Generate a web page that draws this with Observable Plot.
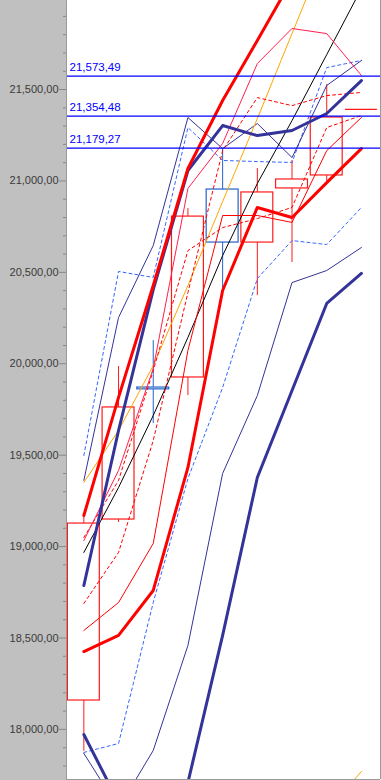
<!DOCTYPE html>
<html><head><meta charset="utf-8">
<script src="https://cdn.jsdelivr.net/npm/d3@7"></script>
<script src="https://cdn.jsdelivr.net/npm/@observablehq/plot@0.6"></script>
<style>html,body{margin:0;padding:0;background:#fff;} svg{display:block;}</style>
</head><body><div id="chart"></div>
<script>
// candles (index 0..8)
const candleOpen  = [19126, 19761, 19870, 20805, 20663, 20937, 21008, 21347, 21391];
const candleClose = [18158, 19148, 19860, 19925, 20953, 20663, 20959, 21030, 21391];
const candleHigh  = [19180, 19985, 20127, 20849, 21177, 21068, 21112, 21527, 21391];
const candleLow   = [17880, 19132, 19673, 19826, 20406, 20373, 20554, 20980, 21391];
const candleDir   = ["down","down","up","down","up","down","down","down","down"];

// indicator series
const thickRedUpper  = [19170, 19816, 20428, 21068, 21440, 21768, 22102, null, null];
const thickRedLower  = [18426, 18514, 18760, 19433, 20401, 20855, 20800, 20991, 21177];
const thickNavyUpper = [18787, 19635, 20406, 21057, 21303, 21248, 21276, 21369, 21549];
const thickNavyLower = [17972, 17601, 17500, 17710, 18514, 19378, 19854, 20330, 20494];
const thinNavyUpper  = [19362, 20253, 20647, 21347, 21177, 21314, 21128, 21522, 21659];
const thinNavyLower  = [17869, 17568, 17885, 18459, 19400, 19826, 20444, 20510, 20636];
const dashBlueUpper  = [19498, 20505, 20472, 21292, 21112, 21106, 21101, 21620, 21659];
const dashBlueLower  = [17874, 17923, 18694, 19372, 19870, 20466, 20674, 20652, 20855];
const blackLine      = [18968, 19323, 19717, 20144, 20592, 20986, 21330, 21691, 22052];
const orangeLine     = [19351, 19635, 19990, 20428, 20887, 21341, 21806, 22271, null];
const orangeLine2    = [null, null, null, null, null, null, null, 17551, 17770];
const thinRed        = [18541, 18694, 19017, 20073, 20811, 20811, 20773, 21166, 21347];
const crimsonLine    = [19033, 19416, 19974, 20959, 21205, 21642, 21834, 21806, 21577];
const redDash1       = [18689, 18968, 19580, 20390, 21166, 21456, 21412, 21467, 21484];
const redDash2       = [19050, 19362, 19963, 20619, 20745, 20794, 20855, 21292, 21358];

// horizontal levels
const levels = [21573.49, 21354.48, 21179.27];

// axis ticks
const majorTicks = [18000, 18500, 19000, 19500, 20000, 20500, 21000, 21500];
const minorTicks = d3.range(17800, 22000, 100).filter(v => v % 500 !== 0);

const fmt = v => d3.format(",.2f")(v).replace(".", ",");

const candles = candleOpen.map((o, i) => ({
  i, open: o, close: candleClose[i], high: candleHigh[i], low: candleLow[i],
  color: candleDir[i] === "up" ? "#2262cc" : "#ff1a1a"
}));
const bodies = candles.filter(d => d.open !== d.close);
const dojis = candles.filter(d => d.open === d.close);

const toPts = arr => arr.map((v, i) => ({i, v})).filter(d => d.v != null);
const series = [
  {data: dashBlueLower, stroke: "#3366ff", w: 1, dash: "3,3"},
  {data: dashBlueUpper, stroke: "#3366ff", w: 1, dash: "3,3"},
  {data: thinNavyLower, stroke: "#333399", w: 1},
  {data: thinNavyUpper, stroke: "#333399", w: 1},
  {data: blackLine, stroke: "#000000", w: 1},
  {data: orangeLine, stroke: "#ffa500", w: 1},
  {data: orangeLine2, stroke: "#ffa500", w: 1},
  {data: redDash1, stroke: "#ff0000", w: 1, dash: "3,3"},
  {data: redDash2, stroke: "#ff0000", w: 1, dash: "3,3"},
  {data: thinRed, stroke: "#ff0000", w: 1},
  {data: crimsonLine, stroke: "#ff1f50", w: 1},
  {data: thickNavyLower, stroke: "#333399", w: 3},
  {data: thickNavyUpper, stroke: "#333399", w: 3},
  {data: thickRedLower, stroke: "#ff0000", w: 3},
  {data: thickRedUpper, stroke: "#ff0000", w: 3}
];

const chart = Plot.plot({
  width: 381, height: 780,
  marginLeft: 66, marginRight: 1, marginTop: 0, marginBottom: 1,
  style: {background: "linear-gradient(to right, #c0c0c0 66px, #ffffff 66px)", fontFamily: "'Liberation Sans', Arial, sans-serif", fontSize: "11px"},
  x: {domain: [-0.5, 8.55], axis: null},
  y: {domain: [17726, 21987], axis: null},
  marks: [
    Plot.axisY(minorTicks, {tickSize: 3, tickFormat: () => "", stroke: "#888"}),
    Plot.axisY(majorTicks, {tickSize: 7, tickPadding: 1, tickFormat: fmt, stroke: "#888", fill: "#3a3a3a", fontSize: 11}),
    // candles
    Plot.ruleX(candles, {x: "i", y1: d => Math.max(d.open, d.close), y2: "high", stroke: "color", clip: true}),
    Plot.ruleX(candles, {x: "i", y1: d => Math.min(d.open, d.close), y2: "low", stroke: "color", clip: true}),
    Plot.rect(bodies, {x1: d => d.i - 0.46, x2: d => d.i + 0.46, y1: "open", y2: "close", stroke: "color", fill: "none", strokeWidth: 1.2}),
    Plot.ruleY(dojis, {x1: d => d.i - 0.46, x2: d => d.i + 0.46, y: "open", stroke: "color", strokeWidth: 1.2}),
    // lines
    ...series.map(s => Plot.line(toPts(s.data), {x: "i", y: "v", stroke: s.stroke, strokeWidth: s.w, strokeDasharray: s.dash, clip: true})),
    // levels
    Plot.ruleY(levels, {stroke: "#0000ff", strokeWidth: 1.4}),
    Plot.text(levels, {frameAnchor: "left", y: d => d, text: fmt, dx: 3, dy: -9, textAnchor: "start", fill: "#0000ff", fontSize: 11.5}),
    // borders
    Plot.ruleX([-0.5], {stroke: "#999"}),
    Plot.ruleX([8.55], {stroke: "#999"}),
    Plot.ruleY([17726], {stroke: "#999"})
  ]
});
document.getElementById("chart").appendChild(chart);
</script>
</body></html>
